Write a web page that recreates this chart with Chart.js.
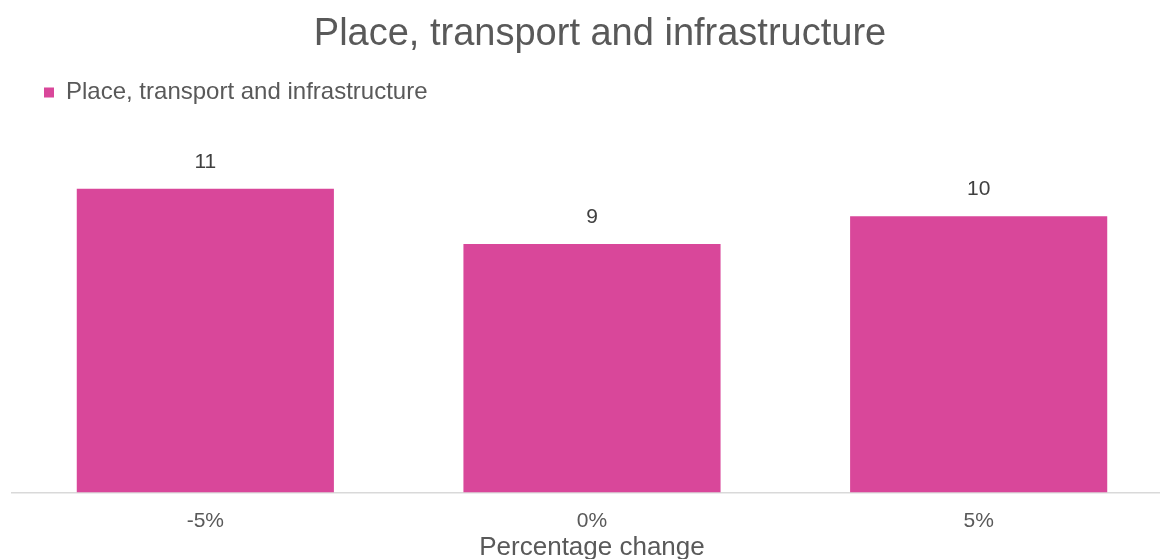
<!DOCTYPE html>
<html lang="en">
<head>
  <meta charset="UTF-8" />
  <title>Place, transport and infrastructure</title>
  <script src="https://cdn.jsdelivr.net/npm/chart.js"></script>
  <style>
    html, body { margin: 0; padding: 0; background: #fff; overflow: hidden; }
    #wrap { position: relative; width: 1200px; height: 569px; }
  </style>
</head>
<body>
  <div id="wrap"><canvas id="chart"></canvas></div>
  <script>
    // data
    const categories = ['-5%', '0%', '5%'];
    const seriesName = 'Place, transport and infrastructure';
    const values = [11, 9, 10];

    const grey = '#595959';
    const pink = '#D9479A';

    // value labels above bars
    const barLabels = {
      id: 'barLabels',
      afterDatasetsDraw(chart) {
        const ctx = chart.ctx;
        const meta = chart.getDatasetMeta(0);
        ctx.save();
        ctx.font = '21px "Liberation Sans", Arial, sans-serif';
        ctx.fillStyle = '#404040';
        ctx.textAlign = 'center';
        ctx.textBaseline = 'middle';
        meta.data.forEach((bar, i) => {
          ctx.fillText(values[i], bar.x, bar.y - 27);
        });
        ctx.restore();
      }
    };

    // extra space below legend, title nudged to the canvas centre
    const layoutTweaks = {
      id: 'layoutTweaks',
      beforeInit(chart) {
        const fit = chart.legend.fit;
        chart.legend.fit = function () {
          fit.bind(chart.legend)();
          this.height += 46.5;
        };
        const drawTitle = chart.titleBlock.draw;
        chart.titleBlock.draw = function () {
          this.ctx.save();
          this.ctx.translate(8, 0);
          drawTitle.call(this);
          this.ctx.restore();
        };
      }
    };

    new Chart(document.getElementById('chart'), {
      type: 'bar',
      data: {
        labels: categories,
        datasets: [{
          label: seriesName,
          data: values,
          backgroundColor: pink,
          borderWidth: 0,
          categoryPercentage: 1,
          barPercentage: 0.665
        }]
      },
      plugins: [barLabels, layoutTweaks],
      options: {
        responsive: true,
        maintainAspectRatio: false,
        animation: false,
        layout: { padding: { left: 12, right: 28, top: 0, bottom: 2 } },
        font: { family: '"Liberation Sans", Arial, sans-serif' },
        plugins: {
          title: {
            display: true,
            text: seriesName,
            color: grey,
            font: { size: 38, weight: 'normal' },
            padding: { top: 12, bottom: -9 }
          },
          legend: {
            position: 'top',
            align: 'start',
            labels: {
              color: grey,
              font: { size: 24 },
              boxWidth: 10,
              boxHeight: 10,
              padding: 32
            }
          },
          tooltip: { enabled: false }
        },
        scales: {
          x: {
            grid: { display: false, drawTicks: false },
            border: { display: true, color: '#d9d9d9', width: 1.5 },
            ticks: { color: grey, font: { size: 21 }, padding: 16.4 },
            title: {
              display: true,
              text: 'Percentage change',
              color: grey,
              font: { size: 26 },
              padding: { top: -18.6, bottom: 4 }
            }
          },
          y: {
            display: false,
            min: 0,
            max: 12
          }
        }
      }
    });
  </script>
</body>
</html>
